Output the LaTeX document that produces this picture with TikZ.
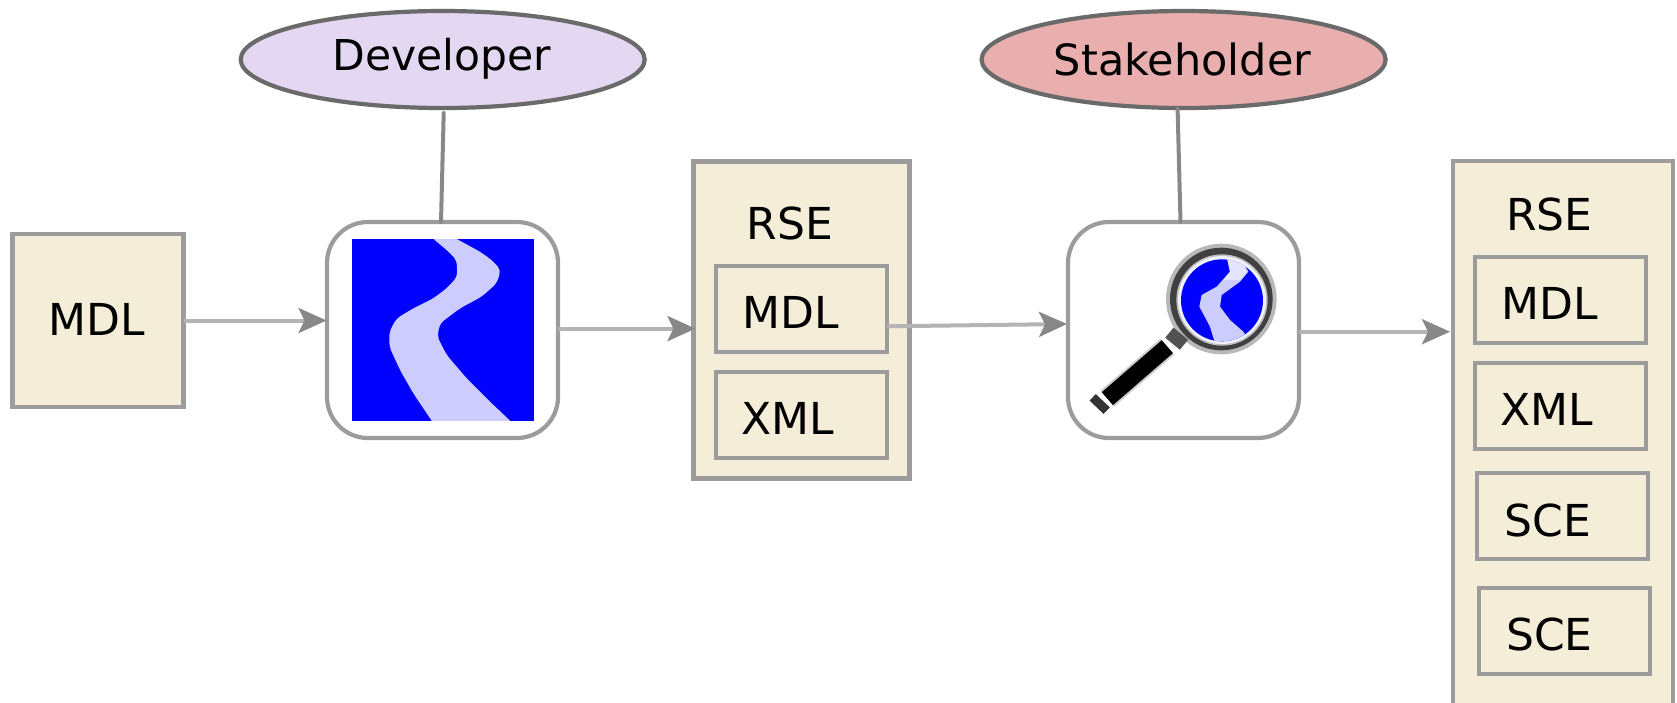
\documentclass[tikz,border=0pt]{standalone}
\usepackage{fontspec}
\setmainfont{DejaVu Sans}
\usetikzlibrary{arrows.meta,shapes.geometric}
\definecolor{boxfill}{HTML}{F4EED8}
\definecolor{boxline}{HTML}{9C9C9C}
\definecolor{ellline}{HTML}{6A6A6A}
\definecolor{devfill}{HTML}{E4D7F2}
\definecolor{stkfill}{HTML}{E9AEAE}
\definecolor{riverc}{HTML}{CCCCFF}
\definecolor{arrline}{HTML}{B4B4B4}
\definecolor{arrtip}{HTML}{888888}
\tikzset{
  filebox/.style={draw=boxline,fill=boxfill,line width=4.2pt,rectangle,inner sep=0pt,outer sep=0pt},
  toolbox/.style={draw=boxline,fill=white,line width=4.2pt,rectangle,rounded corners=41pt,inner sep=0pt,outer sep=0pt,minimum width=231pt,minimum height=216pt},
  actor/.style={draw=ellline,line width=4.2pt,ellipse,inner sep=0pt,outer sep=0pt,minimum width=404pt,minimum height=97pt},
  lbl/.style={anchor=base,font=\fontsize{44pt}{46pt}\selectfont,text=black,inner sep=0pt,outer sep=0pt},
  flow/.style={draw=arrline,line width=4pt,-{Stealth[length=28pt,width=25pt,inset=6pt,color=arrtip]}},
  link/.style={draw=arrtip,line width=4pt,line cap=round}
}
\begin{document}
\begin{tikzpicture}[x=1pt,y=-1pt]
\useasboundingbox (0,0) rectangle (1677,702);
\clip (0,0) rectangle (1677,702);
% boxes
\node[filebox,minimum width=171pt,minimum height=173pt] (mdlA) at (98,320.5) {};
\node[toolbox] (river) at (442.5,330) {};
\node[filebox,minimum width=216pt,minimum height=317pt] (rseA) at (801.5,320) {};
\node[filebox,minimum width=170.5pt,minimum height=86pt] (mdlB) at (801.5,309) {};
\node[filebox,minimum width=170.5pt,minimum height=86pt] (xmlB) at (801.5,415) {};
\node[toolbox] (viewer) at (1183.5,330) {};
\node[filebox,minimum width=220pt,minimum height=558pt] (rseC) at (1563,440) {};
\node[filebox,minimum width=171pt,minimum height=86pt] (mdlC) at (1560.7,300) {};
\node[filebox,minimum width=171pt,minimum height=86pt] (xmlC) at (1560.7,405.6) {};
\node[filebox,minimum width=171pt,minimum height=86pt] (sceC) at (1562.8,516) {};
\node[filebox,minimum width=171pt,minimum height=86pt] (sceD) at (1564.7,630.6) {};
\node[actor,fill=devfill] (dev) at (442.7,59.5) {};
\node[actor,fill=stkfill] (stk) at (1183.6,59.5) {};
% river icon
\begin{scope}[shift={(300,200)},x=0.33333pt,y=-0.33333pt]
\fill[blue] (156,117) rectangle (702,662);
\clip (156,117) rectangle (702,662);
\fill[riverc,rounded corners=5pt] (380,90) -- (400,117) -- (440,150) -- (470,180) -- (472,230) -- (440,265) -- (400,295) -- (340,325) -- (290,355)
  -- (268,395) -- (268,440) -- (300,510) -- (340,580) -- (395,662) -- (420,700) -- (670,700) -- (630,662) -- (570,605) -- (500,535)
  -- (440,465) -- (412,410) -- (420,370) -- (480,325) -- (545,290) -- (590,250) -- (603,210) -- (575,180)
  -- (540,155) -- (470,117) -- (420,90) -- cycle;
\end{scope}
% magnifier icon
\begin{scope}[shift={(1050,200)},x=0.33333pt,y=-0.33333pt]
\draw[line width=21pt,black!20] (352,440) -- (172,596);
\fill[black!28] (514,297) circle[radius=166];
\fill[black!75] (514,297) circle[radius=154];
\fill[black!25] (516,300) circle[radius=137];
\fill[white!70!riverc] (516,300) circle[radius=132];
\fill[blue] (516,301) circle[radius=123];
\begin{scope}
\clip (516,301) circle[radius=123];
\fill[riverc] (530,170) -- (540,215) -- (500,260) -- (455,285) -- (448,320) -- (480,380) -- (495,430)
  -- (600,430) -- (580,395) -- (540,360) -- (510,320) -- (515,285) -- (570,245) -- (595,215) -- (570,170) -- cycle;
\fill[white!50!riverc] (530,170) -- (540,215) -- (520,240) -- (570,240) -- (590,215) -- (570,170) -- cycle;
\end{scope}
\draw[line width=13pt,black!68] (358,398) -- (402,434);
\draw[line width=17pt,black] (352,440) -- (172,596);
\draw[line width=9pt,black!80] (128,592) -- (170,632);
\end{scope}
% connectors
\draw[link] ([yshift=-5pt,xshift=1pt]dev.south) -- ([xshift=-1.5pt]river.north);
\draw[link] ([yshift=-1pt,xshift=-6pt]stk.south) -- ([xshift=-3pt]viewer.north);
\draw[flow] (mdlA.east) -- ([yshift=9.5pt,xshift=-.5pt]river.west);
\draw[flow] ([yshift=1.4pt]river.east) -- ([yshift=-8.6pt,xshift=2pt]rseA.west);
\draw[flow] ([yshift=-17.3pt]mdlB.east) -- ([yshift=6pt,xshift=-1pt]viewer.west);
\draw[flow] ([yshift=-1.7pt]viewer.east) -- ([yshift=108.3pt,xshift=-3pt]rseC.west);
% labels
\node[lbl,font=\fontsize{42.5pt}{46pt}\selectfont] (tDev) at (442,70.7) {Developer};
\node[lbl,font=\fontsize{43pt}{46pt}\selectfont] (tStk) at (1182.5,75.2) {Stakeholder};
\node[lbl] (tMdlA) at (96.7,335.7) {MDL};
\node[lbl] (tRseA) at (790,239.5) {RSE};
\node[lbl] (tMdlB) at (790.6,328) {MDL};
\node[lbl] (tXmlB) at (788,434) {XML};
\node[lbl] (tRseC) at (1549.5,230.5) {RSE};
\node[lbl] (tMdlC) at (1550,319) {MDL};
\node[lbl] (tXmlC) at (1547,425) {XML};
\node[lbl] (tSceC) at (1548,536) {SCE};
\node[lbl] (tSceD) at (1549.5,650.5) {SCE};
\end{tikzpicture}
\end{document}
